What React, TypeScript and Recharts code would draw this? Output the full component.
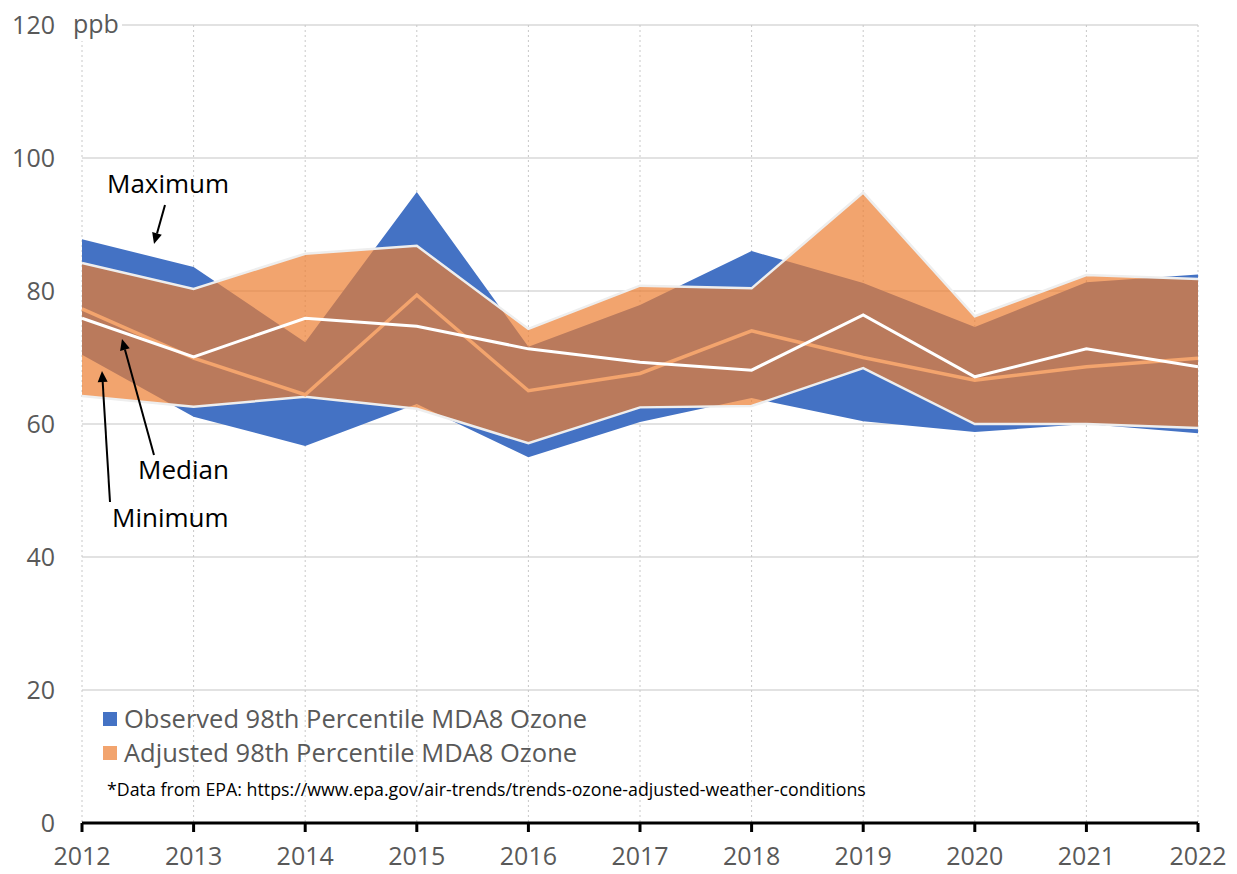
import { ComposedChart, Area, Line, XAxis, YAxis, CartesianGrid } from 'recharts';

// values (ppb)
const years = ['2012', '2013', '2014', '2015', '2016', '2017', '2018', '2019', '2020', '2021', '2022'];
const obsMax = [87.8, 83.6, 72.3, 94.9, 71.6, 77.9, 86.0, 81.2, 74.6, 81.3, 82.5];
const obsMin = [70.4, 61.1, 56.7, 63.0, 55.0, 60.3, 63.9, 60.4, 58.8, 60.0, 58.6];
const obsMedian = [77.3, 69.9, 64.4, 79.4, 65.0, 67.6, 74.0, 70.0, 66.6, 68.6, 69.9];
const adjMax = [84.2, 80.3, 85.6, 86.8, 74.3, 80.8, 80.4, 94.8, 76.2, 82.4, 81.8];
const adjMin = [64.2, 62.6, 64.1, 62.3, 57.1, 62.5, 62.7, 68.4, 60.0, 60.0, 59.4];
const adjMedian = [75.9, 70.1, 75.9, 74.7, 71.3, 69.3, 68.1, 76.4, 67.1, 71.3, 68.6];
const yTicks = [0, 20, 40, 60, 80, 100, 120];

const data = years.map((year, i) => ({
  year,
  obsBand: [obsMin[i], obsMax[i]],
  adjBand: [adjMin[i], adjMax[i]],
  obsMedian: obsMedian[i],
  adjMedian: adjMedian[i],
}));

const FONT = '"Open Sans", sans-serif';
const GRAY = '#595959';
const BLUE = '#4472C4';
const ORANGE = '#ED7D31';

const YTick = (props: any) => {
  const { x, y, payload } = props;
  return (
    <g>
      {payload.value === 120 && (
        <>
          <rect x={x + 14} y={y - 16} width={53} height={32} fill="#fff" />
          <text x={x + 18} y={y} dy="0.32em" fill={GRAY} fontSize={25} fontFamily={FONT}>
            ppb
          </text>
        </>
      )}
      <text x={x} y={y} dy="0.35em" textAnchor="end" fill={GRAY} fontSize={25} fontFamily={FONT}>
        {payload.value}
      </text>
    </g>
  );
};

const Arrow = ({ x1, y1, x2, y2 }: { x1: number; y1: number; x2: number; y2: number }) => {
  const a = Math.atan2(y2 - y1, x2 - x1);
  const len = 11;
  const w = 5;
  const bx = x2 - len * Math.cos(a);
  const by = y2 - len * Math.sin(a);
  const px = -Math.sin(a) * w;
  const py = Math.cos(a) * w;
  return (
    <g>
      <line x1={x1} y1={y1} x2={bx} y2={by} stroke="#000" strokeWidth={2} />
      <polygon points={`${x2},${y2} ${bx + px},${by + py} ${bx - px},${by - py}`} fill="#000" />
    </g>
  );
};

export default function App() {
  return (
    <div style={{ position: 'absolute', left: 0, top: 0, width: 1237, height: 874, background: '#fff' }}>
      <ComposedChart width={1237} height={874} data={data} margin={{ top: 25, right: 39, bottom: 0, left: 12 }}>
        <CartesianGrid horizontal vertical={false} stroke="#D9D9D9" strokeWidth={1.5} />
        <CartesianGrid horizontal={false} vertical stroke="#C8C8C8" strokeDasharray="2 3" />
        <XAxis
          dataKey="year"
          height={51}
          interval={0}
          axisLine={{ stroke: '#000', strokeWidth: 3 }}
          tickLine={{ stroke: '#000', strokeWidth: 3 }}
          tickSize={9}
          tickMargin={15}
          tick={{ fill: GRAY, fontSize: 25, fontFamily: FONT }}
        />
        <YAxis
          width={70}
          domain={[0, 120]}
          ticks={yTicks}
          interval={0}
          axisLine={false}
          tickLine={false}
          tickSize={0}
          tickMargin={27}
          tick={<YTick />}
        />
        <Area
          type="linear"
          dataKey="obsBand"
          fill={BLUE}
          fillOpacity={1}
          stroke="none"
          isAnimationActive={false}
        />
        <Area
          type="linear"
          dataKey="adjBand"
          fill={ORANGE}
          fillOpacity={0.7}
          stroke="#EEEEEE"
          strokeWidth={2.5}
          isAnimationActive={false}
        />
        <Line type="linear" dataKey="obsMedian" stroke="#F3A46D" strokeWidth={3.5} dot={false} isAnimationActive={false} />
        <Line type="linear" dataKey="adjMedian" stroke="#FFFFFF" strokeWidth={3} dot={false} isAnimationActive={false} />
      </ComposedChart>

      <svg width={1237} height={874} style={{ position: 'absolute', left: 0, top: 0, pointerEvents: 'none' }}>
        <text x={107} y={193} fontSize={26} fontFamily={FONT} fill="#000">Maximum</text>
        <text x={138} y={479} fontSize={26} fontFamily={FONT} fill="#000">Median</text>
        <text x={112} y={527} fontSize={26} fontFamily={FONT} fill="#000">Minimum</text>
        <Arrow x1={165} y1={205} x2={154} y2={244} />
        <Arrow x1={154} y1={455} x2={122} y2={339} />
        <Arrow x1={110} y1={502} x2={102} y2={371} />

        <rect x={103} y={712} width={14} height={14} fill={BLUE} />
        <text x={124} y={728} fontSize={25.5} fontFamily={FONT} fill={GRAY}>Observed 98th Percentile MDA8 Ozone</text>
        <rect x={103} y={746} width={14} height={14} fill={ORANGE} fillOpacity={0.7} />
        <text x={124} y={762} fontSize={25.5} fontFamily={FONT} fill={GRAY}>Adjusted 98th Percentile MDA8 Ozone</text>
        <text x={107} y={796} fontSize={17.8} fontFamily={FONT} fill="#000">
          *Data from EPA: https://www.epa.gov/air-trends/trends-ozone-adjusted-weather-conditions
        </text>
      </svg>
    </div>
  );
}
